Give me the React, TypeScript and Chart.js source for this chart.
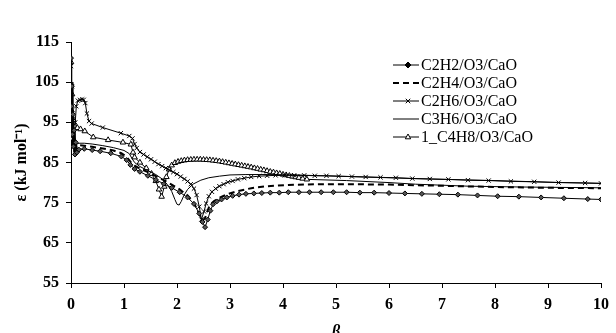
import React, { useEffect, useRef } from 'react';
import { Chart, registerables } from 'chart.js';

Chart.register(...registerables);

// ---------- data ----------
const xMin = 0;
const xMax = 10;
const yMin = 55;
const yMax = 115;

const seriesLabels = ['C2H2/O3/CaO', 'C2H4/O3/CaO', 'C2H6/O3/CaO', 'C3H6/O3/CaO', '1_C4H8/O3/CaO'];

const c2h2Beta = [0, 0.008, 0.016, 0.025, 0.035, 0.045, 0.06, 0.075, 0.09, 0.11, 0.15, 0.25, 0.4, 0.55, 0.75, 0.95, 1.05, 1.12, 1.2, 1.3, 1.45, 1.6, 1.75, 1.9, 2.05, 2.2, 2.32, 2.42, 2.48, 2.53, 2.58, 2.63, 2.68, 2.75, 2.84, 2.94, 3.05, 3.17, 3.3, 3.45, 3.6, 3.76, 3.93, 4.1, 4.3, 4.5, 4.72, 4.95, 5.2, 5.45, 5.72, 6.0, 6.3, 6.62, 6.95, 7.3, 7.67, 8.05, 8.45, 8.87, 9.3, 9.75, 10];
const c2h2Eps = [111, 99, 104, 92, 97, 89, 93, 87, 90, 87.5, 88.2, 88.4, 88.1, 87.8, 87.3, 86.5, 85.6, 84.4, 83.4, 82.7, 81.7, 80.7, 79.7, 78.7, 77.6, 76.3, 74.7, 72.3, 70.2, 68.9, 70.8, 73.0, 74.6, 75.3, 75.8, 76.3, 76.7, 77.0, 77.2, 77.3, 77.4, 77.5, 77.5, 77.6, 77.6, 77.6, 77.6, 77.6, 77.6, 77.5, 77.5, 77.4, 77.3, 77.2, 77.1, 77.0, 76.8, 76.6, 76.5, 76.3, 76.1, 75.9, 75.8];

const c2h4Beta = [0, 0.01, 0.02, 0.03, 0.045, 0.06, 0.08, 0.11, 0.15, 0.25, 0.4, 0.6, 0.8, 0.95, 1.05, 1.12, 1.2, 1.3, 1.45, 1.6, 1.75, 1.9, 2.05, 2.2, 2.3, 2.38, 2.44, 2.49, 2.53, 2.57, 2.62, 2.7, 2.8, 2.95, 3.15, 3.4, 3.7, 4.1, 4.6, 5.2, 6, 7, 8, 9, 10];
const c2h4Eps = [106, 95, 101, 89, 93, 87.5, 90.5, 88.5, 89.3, 89.2, 88.9, 88.5, 88.0, 87.3, 86.4, 85.2, 84.2, 83.5, 82.6, 81.6, 80.6, 79.5, 78.3, 76.8, 75.2, 73.4, 71.6, 70.6, 71.2, 72.8, 74.4, 75.4, 76.2, 77.1, 77.9, 78.6, 79.1, 79.4, 79.6, 79.6, 79.5, 79.2, 78.9, 78.7, 78.6];

const c2h6Beta = [0, 0.01, 0.02, 0.03, 0.045, 0.06, 0.08, 0.1, 0.13, 0.17, 0.21, 0.24, 0.27, 0.3, 0.34, 0.39, 0.6, 0.94, 1.1, 1.16, 1.2, 1.24, 1.3, 1.37, 1.44, 1.51, 1.58, 1.65, 1.72, 1.79, 1.86, 1.93, 2.0, 2.07, 2.14, 2.2, 2.26, 2.32, 2.37, 2.42, 2.46, 2.51, 2.55, 2.6, 2.66, 2.73, 2.8, 2.88, 2.96, 3.05, 3.15, 3.27, 3.4, 3.55, 3.7, 3.86, 4.03, 4.21, 4.4, 4.6, 4.82, 5.05, 5.3, 5.56, 5.84, 6.13, 6.44, 6.77, 7.12, 7.49, 7.88, 8.3, 8.74, 9.2, 9.7, 10];
const c2h6Eps = [109, 97, 104, 92, 96, 89, 95, 99, 100.4, 100.6, 100.7, 100.6, 99.8, 97.2, 95.3, 94.7, 93.7, 92.3, 91.6, 91.0, 89.6, 88.6, 87.6, 87.0, 86.4, 85.8, 85.2, 84.6, 84.1, 83.6, 83.1, 82.6, 82.1, 81.5, 80.9, 80.3, 79.6, 78.5, 76.9, 74.0, 70.8, 72.8, 74.8, 76.6, 77.7, 78.5, 79.1, 79.6, 80.1, 80.4, 80.8, 81.1, 81.4, 81.6, 81.7, 81.8, 81.8, 81.8, 81.8, 81.7, 81.7, 81.6, 81.5, 81.4, 81.3, 81.2, 81.0, 80.9, 80.8, 80.6, 80.5, 80.3, 80.2, 80.0, 79.9, 79.8];

const c3h6Beta = [0, 0.01, 0.02, 0.035, 0.05, 0.07, 0.1, 0.15, 0.25, 0.4, 0.6, 0.8, 1.0, 1.1, 1.15, 1.2, 1.3, 1.45, 1.6, 1.72, 1.82, 1.9, 1.96, 2.0, 2.04, 2.08, 2.13, 2.2, 2.3, 2.45, 2.6, 2.8, 3.0, 3.3, 3.7, 4.2, 5, 6, 7, 8, 9, 10];
const c3h6Eps = [112, 100, 105, 94, 90, 92, 89.5, 89.8, 89.8, 89.6, 89.2, 88.7, 88.0, 87.2, 86.0, 85.0, 84.0, 83.0, 82.0, 80.9, 79.5, 77.8, 75.8, 74.6, 74.4, 75.3, 76.8, 78.3, 79.6, 80.6, 81.2, 81.6, 81.9, 82.0, 82.0, 81.9, 81.6, 81.2, 80.8, 80.5, 80.1, 79.8];

const c4h8Beta = [0, 0.01, 0.02, 0.03, 0.045, 0.06, 0.08, 0.12, 0.18, 0.26, 0.42, 0.7, 0.98, 1.13, 1.17, 1.2, 1.3, 1.42, 1.52, 1.6, 1.66, 1.71, 1.76, 1.8, 1.85, 1.9, 1.96, 2.02, 2.08, 2.14, 2.2, 2.26, 2.32, 2.38, 2.44, 2.5, 2.56, 2.62, 2.68, 2.74, 2.8, 2.86, 2.92, 2.98, 3.04, 3.1, 3.16, 3.22, 3.28, 3.34, 3.4, 3.46, 3.52, 3.58, 3.64, 3.7, 3.76, 3.82, 3.88, 3.94, 4.0, 4.06, 4.12, 4.18, 4.24, 4.3, 4.37, 4.45, 5.2, 6.0, 6.5, 7.5, 8.5, 10];
const c4h8Eps = [110, 98, 102, 91, 95.5, 90, 94, 93.6, 93.3, 92.8, 91.3, 90.6, 90.0, 89.5, 87.5, 86.3, 85.0, 83.6, 82.2, 80.4, 78.3, 76.5, 79.0, 81.4, 83.3, 84.3, 84.9, 85.2, 85.4, 85.55, 85.65, 85.7, 85.75, 85.75, 85.75, 85.7, 85.65, 85.6, 85.5, 85.4, 85.3, 85.15, 85.0, 84.85, 84.7, 84.55, 84.4, 84.25, 84.1, 83.95, 83.8, 83.6, 83.45, 83.25, 83.1, 82.9, 82.7, 82.55, 82.35, 82.2, 82.0, 81.85, 81.7, 81.5, 81.35, 81.2, 81.0, 80.8, 80.5, 80.0, 79.6, 79.1, 78.9, 78.7];
// markers of the 1_C4H8 series are only visible up to this beta
const c4h8MarkerLimit = 4.5;

// ---------- helpers ----------
function pts(b: number[], e: number[]) {
  const n = Math.min(b.length, e.length);
  const out: { x: number; y: number }[] = [];
  for (let i = 0; i < n; i++) out.push({ x: b[i], y: e[i] });
  return out;
}

const FONT = 'Liberation Serif';

function drawMarker(ctx: CanvasRenderingContext2D, style: string, cx: number, cy: number, r: number) {
  ctx.save();
  ctx.setLineDash([]);
  ctx.lineWidth = 1;
  ctx.strokeStyle = '#000';
  ctx.beginPath();
  if (style === 'rectRot') {
    ctx.moveTo(cx, cy - r);
    ctx.lineTo(cx + r, cy);
    ctx.lineTo(cx, cy + r);
    ctx.lineTo(cx - r, cy);
    ctx.closePath();
    ctx.fillStyle = '#000';
    ctx.fill();
    ctx.stroke();
  } else if (style === 'crossRot') {
    const d = r * 0.75;
    ctx.moveTo(cx - d, cy - d);
    ctx.lineTo(cx + d, cy + d);
    ctx.moveTo(cx + d, cy - d);
    ctx.lineTo(cx - d, cy + d);
    ctx.stroke();
  } else if (style === 'triangle') {
    ctx.moveTo(cx, cy - r);
    ctx.lineTo(cx + r * 0.9, cy + r * 0.6);
    ctx.lineTo(cx - r * 0.9, cy + r * 0.6);
    ctx.closePath();
    ctx.fillStyle = '#fff';
    ctx.fill();
    ctx.stroke();
  }
  ctx.restore();
}

const insetLegend = {
  id: 'insetLegend',
  afterDraw(chart: any) {
    const ctx: CanvasRenderingContext2D = chart.ctx;
    const x0 = 393;
    const x1 = 419;
    const mx = 408;
    const tx = 421;
    const y0 = 65;
    const dy = 18;
    ctx.save();
    chart.data.datasets.forEach((ds: any, i: number) => {
      const y = y0 + i * dy;
      ctx.beginPath();
      ctx.setLineDash(ds.borderDash || []);
      ctx.lineWidth = ds.borderWidth;
      ctx.strokeStyle = '#000';
      ctx.moveTo(x0, y);
      ctx.lineTo(x1, y);
      ctx.stroke();
      ctx.setLineDash([]);
      if (ds.legendMarker) drawMarker(ctx, ds.legendMarker, mx, y, 3);
      ctx.font = `16px "${FONT}"`;
      ctx.fillStyle = '#000';
      ctx.textBaseline = 'middle';
      ctx.textAlign = 'left';
      ctx.fillText(ds.label, tx, y + 1);
    });
    ctx.restore();
  },
};

export default function App() {
  const canvasRef = useRef<HTMLCanvasElement | null>(null);

  useEffect(() => {
    const canvas = canvasRef.current;
    if (!canvas) return;
    Chart.defaults.font.family = FONT;
    Chart.defaults.color = '#000';

    const tickFont = { family: FONT, size: 16, weight: 'bold' as const };

    const chart = new Chart(canvas, {
      type: 'line',
      data: {
        datasets: [
          {
            label: seriesLabels[0],
            data: pts(c2h2Beta, c2h2Eps),
            borderColor: '#000',
            borderWidth: 1,
            pointStyle: 'rectRot',
            pointRadius: 2.5,
            pointBackgroundColor: '#555',
            pointBorderColor: '#000',
            pointBorderWidth: 1,
            legendMarker: 'rectRot',
          } as any,
          {
            label: seriesLabels[1],
            data: pts(c2h4Beta, c2h4Eps),
            borderColor: '#000',
            borderWidth: 2,
            borderDash: [6, 4],
            pointRadius: 0,
          } as any,
          {
            label: seriesLabels[2],
            data: pts(c2h6Beta, c2h6Eps),
            borderColor: '#000',
            borderWidth: 1,
            pointStyle: 'crossRot',
            pointRadius: 3,
            pointBorderColor: '#000',
            pointBorderWidth: 1,
            legendMarker: 'crossRot',
          } as any,
          {
            label: seriesLabels[3],
            data: pts(c3h6Beta, c3h6Eps),
            borderColor: '#000',
            borderWidth: 1,
            pointRadius: 0,
          } as any,
          {
            label: seriesLabels[4],
            data: pts(c4h8Beta, c4h8Eps),
            borderColor: '#000',
            borderWidth: 1,
            pointStyle: 'triangle',
            pointRadius: (c: any) => (c.raw && c.raw.x > c4h8MarkerLimit ? 0 : 3.2),
            pointBackgroundColor: '#fff',
            pointBorderColor: '#000',
            pointBorderWidth: 1,
            legendMarker: 'triangle',
          } as any,
        ],
      },
      options: {
        responsive: false,
        animation: false,
        events: [],
        layout: { padding: { top: 42, right: 8, left: 0, bottom: 0 } },
        elements: { line: { tension: 0 } },
        plugins: {
          legend: { display: false },
          tooltip: { enabled: false },
        },
        scales: {
          x: {
            type: 'linear',
            min: xMin,
            max: xMax,
            ticks: { stepSize: 1, color: '#000', font: tickFont, padding: 7, maxRotation: 0 },
            grid: { drawOnChartArea: false, drawTicks: true, tickLength: 5, color: '#000', lineWidth: 1 },
            border: { display: true, color: '#000', width: 1 },
            title: {
              display: true,
              text: 'β',
              color: '#000',
              font: { family: FONT, size: 16, weight: 'bold', style: 'italic' },
              padding: { top: 0, bottom: 9 },
            },
            afterFit: (s: any) => {
              s.height = 67;
            },
          },
          y: {
            type: 'linear',
            min: yMin,
            max: yMax,
            ticks: { stepSize: 10, color: '#000', font: tickFont, padding: 7 },
            grid: { drawOnChartArea: false, drawTicks: true, tickLength: 5, color: '#000', lineWidth: 1 },
            border: { display: true, color: '#000', width: 1 },
            title: {
              display: true,
              text: 'ε (kJ mol⁻¹)',
              color: '#000',
              font: { family: FONT, size: 16, weight: 'bold' },
              padding: { top: 12, bottom: 0 },
            },
            afterFit: (s: any) => {
              s.width = 71;
            },
          },
        },
      } as any,
      plugins: [insetLegend],
    });

    return () => {
      chart.destroy();
    };
  }, []);

  return (
    <div style={{ position: 'fixed', left: 0, top: 0, width: 616, height: 333, overflow: 'hidden', background: '#fff' }}>
      <canvas ref={canvasRef} width={616} height={350} style={{ display: 'block', width: 616, height: 350 }} />
    </div>
  );
}
